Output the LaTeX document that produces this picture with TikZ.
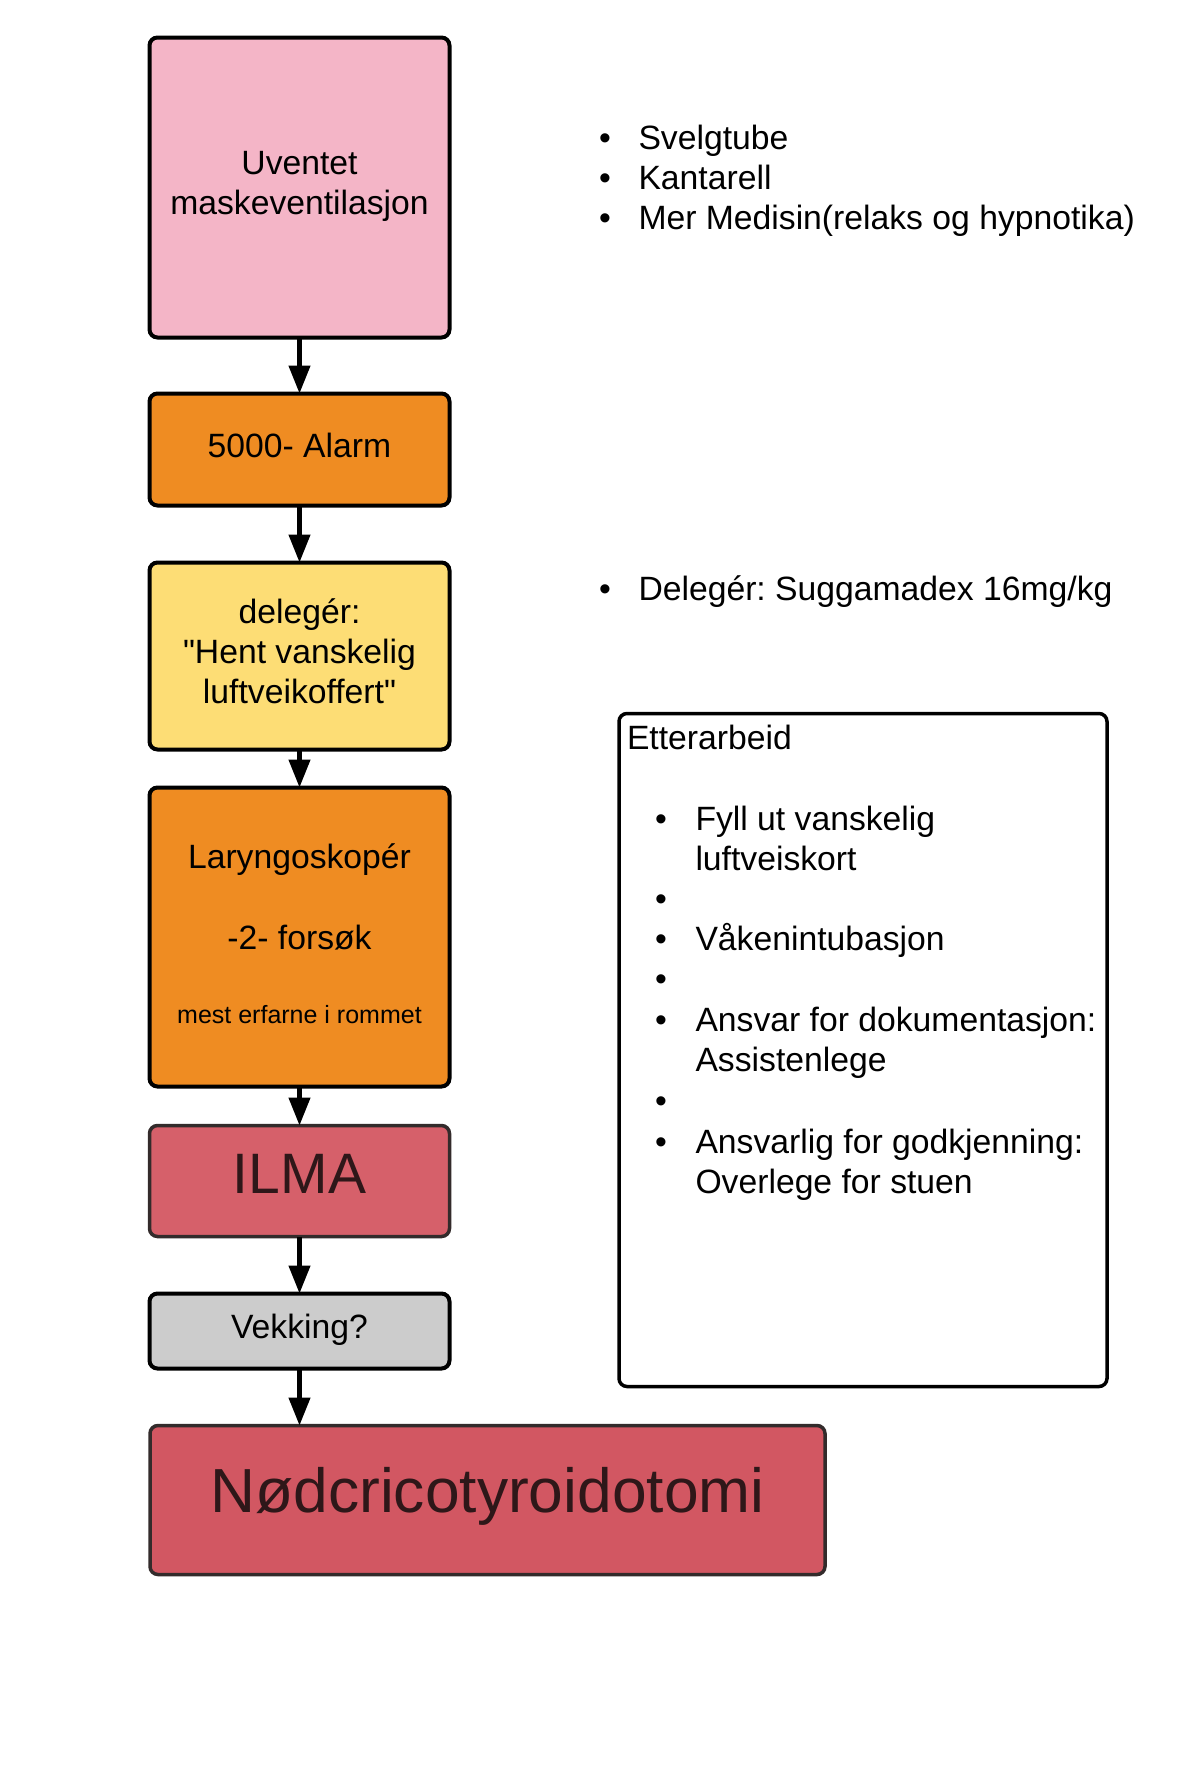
\documentclass[tikz,border=0pt]{standalone}
\usepackage{fontspec}
\setmainfont{Liberation Sans}[Ligatures=TeXOff]
\usetikzlibrary{arrows.meta}
\definecolor{pinkfill}{HTML}{F4B5C7}
\definecolor{orangefill}{HTML}{EF8C22}
\definecolor{yellowfill}{HTML}{FDDD75}
\definecolor{ilmafill}{HTML}{D6606A}
\definecolor{grayfill}{HTML}{CCCCCC}
\definecolor{nodfill}{HTML}{D25762}
\definecolor{darkred}{HTML}{2E1719}
\definecolor{redborder}{HTML}{332B2B}
\frenchspacing
\begin{document}
\frenchspacing
\begin{tikzpicture}[x=1pt,y=-1pt,
  box/.style={draw=black, line width=4pt, rounded corners=8pt, inner sep=0pt, outer sep=0pt, minimum width=300pt},
  redbox/.style={box, draw=redborder, line width=3.5pt},
  txt/.style={inner sep=0pt, outer sep=0pt, anchor=base, font=\fontsize{33.7}{40}\selectfont},
  ltxt/.style={txt, anchor=base west},
  bul/.style={txt},
  flow/.style={line width=4.5pt, -{Triangle[length=28pt,width=21pt]}},
]
\useasboundingbox (0,0) rectangle (1179,1767);

% flow boxes
\node[box, fill=pinkfill, minimum height=300pt] (b1) at (299.5,187.5) {};
\node[box, fill=orangefill, minimum height=112pt] (b2) at (299.5,449.5) {};
\node[box, fill=yellowfill, minimum height=187pt] (b3) at (299.5,656) {};
\node[box, fill=orangefill, minimum height=299pt] (b4) at (299.5,937) {};
\node[redbox, fill=ilmafill, minimum height=111pt] (b5) at (299.5,1181) {};
\node[box, fill=grayfill, minimum height=75pt] (b6) at (299.5,1331) {};
\node[redbox, fill=nodfill, minimum width=675pt, minimum height=149pt] (b7) at (487.5,1500) {};

% box texts
\node[txt] (t1a) at (299.5,174.5) {Uventet};
\node[txt] (t1b) at (299.5,214) {maskeventilasjon};
\node[txt] (t2) at (299.5,457) {5000- Alarm};
\node[txt] (t3a) at (299.5,623) {delegér:};
\node[txt] (t3b) at (299.5,663) {"Hent vanskelig};
\node[txt] (t3c) at (299.5,703) {luftveikoffert"};
\node[txt] (t4a) at (299.5,868) {Laryngoskopér};
\node[txt] (t4b) at (299.5,949) {-2- forsøk};
\node[txt, font=\fontsize{25}{30}\selectfont] (t4c) at (299.5,1023) {mest erfarne i rommet};
\node[txt, text=darkred, font=\fontsize{57}{64}\selectfont] (t5) at (299.5,1193) {ILMA};
\node[txt] (t6) at (299.5,1338) {Vekking?};
\node[txt, text=darkred, font=\fontsize{62.3}{70}\selectfont] (t7) at (487.5,1512) {Nødcricotyroidotomi};

% connectors
\draw[flow] (b1) -- (b2);
\draw[flow] (b2) -- (b3);
\draw[flow] (b3) -- (b4);
\draw[flow] (b4) -- (b5);
\draw[flow] (b5) -- (b6);
\draw[flow] (b6.south) -- (b6.south |- b7.north);

% top right list
\node[bul] (p1) at (605,149) {•};
\node[bul] (p2) at (605,189) {•};
\node[bul] (p3) at (605,229) {•};
\node[bul] (p4) at (605,600) {•};
\node[ltxt] (r1) at (638.5,149) {Svelgtube};
\node[ltxt] (r2) at (638.5,189) {Kantarell};
\node[ltxt] (r3) at (638.5,229) {Mer Medisin(relaks og hypnotika)};
\node[ltxt] (r4) at (638.5,600) {Delegér: Suggamadex 16mg/kg};

% Etterarbeid box
\node[box, fill=white, line width=3.5pt, minimum width=488pt, minimum height=673pt] (eb) at (863,1050) {};
\node[ltxt] (et) at (627,749) {Etterarbeid};
\node[bul] (q1) at (661,830) {•};
\node[bul] (q2) at (661,910) {•};
\node[bul] (q3) at (661,950) {•};
\node[bul] (q4) at (661,990) {•};
\node[bul] (q5) at (661,1031) {•};
\node[bul] (q6) at (661,1112) {•};
\node[bul] (q7) at (661,1153) {•};
\node[ltxt] (e1) at (695.5,830) {Fyll ut vanskelig};
\node[ltxt] (e2) at (695.5,870) {luftveiskort};
\node[ltxt] (e3) at (695.5,950) {Våkenintubasjon};
\node[ltxt] (e4) at (695.5,1031) {Ansvar for dokumentasjon:};
\node[ltxt] (e5) at (695.5,1071) {Assistenlege};
\node[ltxt] (e6) at (695.5,1153) {Ansvarlig for godkjenning:};
\node[ltxt] (e7) at (695.5,1193) {Overlege for stuen};
\end{tikzpicture}
\end{document}
